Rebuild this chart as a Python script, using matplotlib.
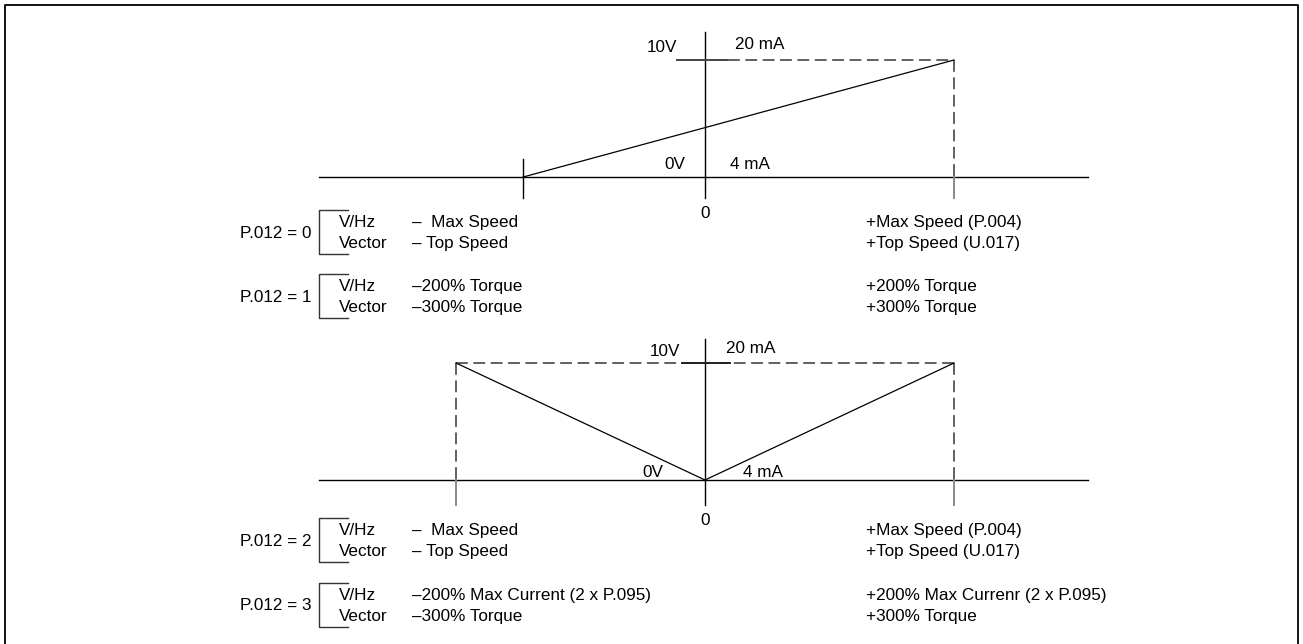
import matplotlib
matplotlib.use("Agg")
import matplotlib.pyplot as plt

plt.rcParams['font.family'] = ['Liberation Sans', 'DejaVu Sans']
plt.rcParams['lines.scale_dashes'] = False

W, H = 1303, 644
FS = 12.3

# transfer curves: x = fraction of max speed / torque, y = analog input volts
top_x = [-0.73, 1.0]
top_y = [0.0, 10.0]
bot_x = [-1.0, 0.0, 1.0]
bot_y = [10.0, 0.0, 10.0]

param_labels = ["P.012 = 0", "P.012 = 1", "P.012 = 2", "P.012 = 3"]
mode_labels = ["V/Hz", "Vector"]
neg_labels = [["\u2013  Max Speed", "\u2013 Top Speed"],
              ["\u2013200% Torque", "\u2013300% Torque"],
              ["\u2013  Max Speed", "\u2013 Top Speed"],
              ["\u2013200% Max Current (2 x P.095)", "\u2013300% Torque"]]
pos_labels = [["+Max Speed (P.004)", "+Top Speed (U.017)"],
              ["+200% Torque", "+300% Torque"],
              ["+Max Speed (P.004)", "+Top Speed (U.017)"],
              ["+200% Max Currenr (2 x P.095)", "+300% Torque"]]

# layout in pixels
ox = 705          # x pixel of zero
px_x = 249        # pixels per unit of x
px_y = 11.7       # pixels per volt
xr = (-1.6, 1.6)
yr = (-3.0, 13.0)

fig = plt.figure(figsize=(W / 100, H / 100), dpi=100)
bg = fig.add_axes([0, 0, 1, 1])
bg.set_xlim(0, W)
bg.set_ylim(H, 0)
bg.axis('off')

# frame (bottom edge runs off the page)
bg.plot([5, 5, 1298, 1298], [650, 5, 5, 650], color='black', lw=1.3)


def panel(oy):
    left = ox + xr[0] * px_x
    top = oy - yr[1] * px_y
    bottom = oy - yr[0] * px_y
    ax = fig.add_axes([left / W, (H - bottom) / H,
                       (xr[1] - xr[0]) * px_x / W, (bottom - top) / H])
    ax.set_xlim(*xr)
    ax.set_ylim(*yr)
    ax.axis('off')
    ax.patch.set_alpha(0)
    return ax


dash = dict(color='#606060', lw=1.4, dashes=(8.5, 4))
grey = dict(color='#8a8a8a', lw=1.4)
blk = dict(color='black', lw=1.0)

# ---- top panel: unipolar
a1 = panel(177)
a1.plot([-1.55, 1.54], [0, 0], **blk)
a1.plot([0, 0], [-1.8, 12.4], **blk)
a1.plot([-0.73, -0.73], [-1.8, 1.55], **blk)
a1.plot([-0.112, 0.092], [10, 10], color='#444444', lw=1.4)
a1.plot([0.092, 1.0], [10, 10], **dash)
a1.plot([1.0, 1.0], [10, 0], **dash)
a1.plot([1.0, 1.0], [0, -1.8], **grey)
a1.plot(top_x, top_y, color='black', lw=0.9)
a1.text(-0.112, 11.1, "10V", ha='right', va='center', fontsize=FS)
a1.text(0.12, 11.3, "20 mA", ha='left', va='center', fontsize=FS)
a1.text(-0.08, 1.1, "0V", ha='right', va='center', fontsize=FS)
a1.text(0.10, 1.1, "4 mA", ha='left', va='center', fontsize=FS)
a1.text(0, -3.1, "0", ha='center', va='center', fontsize=FS)

# ---- bottom panel: bipolar
a2 = panel(480)
a2.plot([-1.55, 1.54], [0, 0], **blk)
a2.plot([0, 0], [-2.1, 12.05], **blk)
a2.plot([-1.0, 1.0], [10, 10], **dash)
for sx in (-1.0, 1.0):
    a2.plot([sx, sx], [10, 0], **dash)
    a2.plot([sx, sx], [0, -2.1], **grey)
a2.plot([-0.092, 0.10], [10, 10], color='#222222', lw=1.4)
a2.plot(bot_x, bot_y, color='black', lw=0.9)
a2.text(-0.10, 11.0, "10V", ha='right', va='center', fontsize=FS)
a2.text(0.084, 11.2, "20 mA", ha='left', va='center', fontsize=FS)
a2.text(-0.169, 0.68, "0V", ha='right', va='center', fontsize=FS)
a2.text(0.153, 0.68, "4 mA", ha='left', va='center', fontsize=FS)
a2.text(0, -3.5, "0", ha='center', va='center', fontsize=FS)

# ---- parameter legends
centers = [233, 297, 541, 606]
for i, cy in enumerate(centers):
    bg.plot([348, 319, 319, 348], [cy - 23, cy - 23, cy + 21, cy + 21],
            color='#333333', lw=1.0)
    bg.text(312, cy, param_labels[i], ha='right', va='center', fontsize=FS)
    for j, dy in enumerate((-10.5, 10.5)):
        bg.text(339, cy + dy, mode_labels[j], ha='left', va='center', fontsize=FS)
        bg.text(412, cy + dy, neg_labels[i][j], ha='left', va='center', fontsize=FS)
        bg.text(866, cy + dy, pos_labels[i][j], ha='left', va='center', fontsize=FS)

fig.savefig("out.png", dpi=100)
